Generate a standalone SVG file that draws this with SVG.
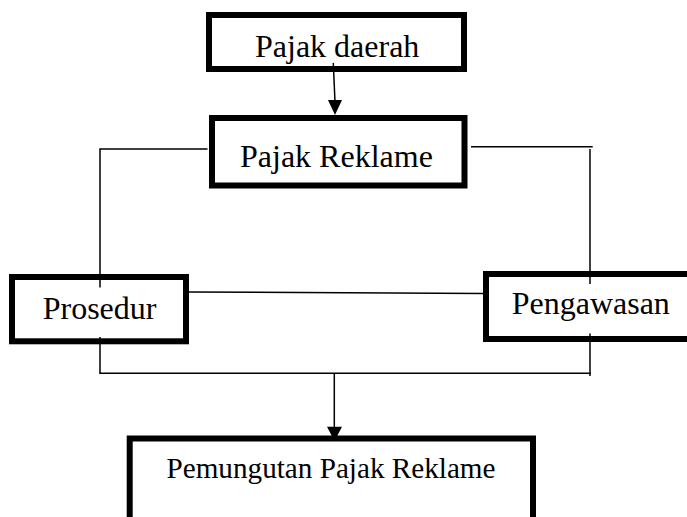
<svg xmlns="http://www.w3.org/2000/svg" width="687" height="517" viewBox="0 0 687 517">
<style>
.box{fill:#fff;stroke:#000;stroke-width:6}
.lbl{font-family:"Liberation Serif","Times New Roman",serif;font-size:32px;fill:#000}
.con{fill:none;stroke:#000;stroke-width:1.5}
.head{fill:#000}
</style>
<rect width="687" height="517" fill="#fff"/>
<g id="node-pajak-daerah">
<rect class="box" x="209" y="15" width="255" height="54"/>
<text class="lbl" x="255" y="56.7">Pajak daerah</text>
</g>
<g id="node-pajak-reklame">
<rect class="box" x="212" y="118" width="252.5" height="67.5"/>
<text class="lbl" x="240" y="166.7">Pajak Reklame</text>
</g>
<g id="node-prosedur">
<rect class="box" x="12" y="277" width="174" height="64.3"/>
<text class="lbl" x="42.7" y="319.3">Prosedur</text>
</g>
<g id="node-pengawasan">
<rect class="box" x="486" y="274" width="220" height="65"/>
<text class="lbl" x="511.7" y="314.3">Pengawasan</text>
</g>
<g id="node-pemungutan">
<rect class="box" x="129.7" y="438.5" width="403.3" height="100"/>
<text class="lbl" x="166.5" y="478.3" style="font-size:29px" textLength="329" lengthAdjust="spacingAndGlyphs">Pemungutan Pajak Reklame</text>
</g>
<g id="connectors">
<line class="con" x1="333.3" y1="63" x2="335" y2="102"/>
<polygon class="head" points="328,100 342,100 335,115"/>
<polyline class="con" points="207.5,149 100,149 100,287.5"/>
<polyline class="con" points="471,146.7 592.7,146.7"/>
<line class="con" x1="590" y1="149" x2="590" y2="284"/>
<line class="con" x1="189" y1="292" x2="483.5" y2="293.5"/>
<line class="con" x1="100" y1="337" x2="100" y2="373.5"/>
<line class="con" x1="590" y1="333.5" x2="590" y2="376"/>
<line class="con" x1="99.3" y1="373.3" x2="590.7" y2="373.3"/>
<line class="con" x1="334.3" y1="373.3" x2="334.3" y2="428"/>
<polygon class="head" points="327,426.7 342,426.7 334.5,441"/>
</g>
</svg>
